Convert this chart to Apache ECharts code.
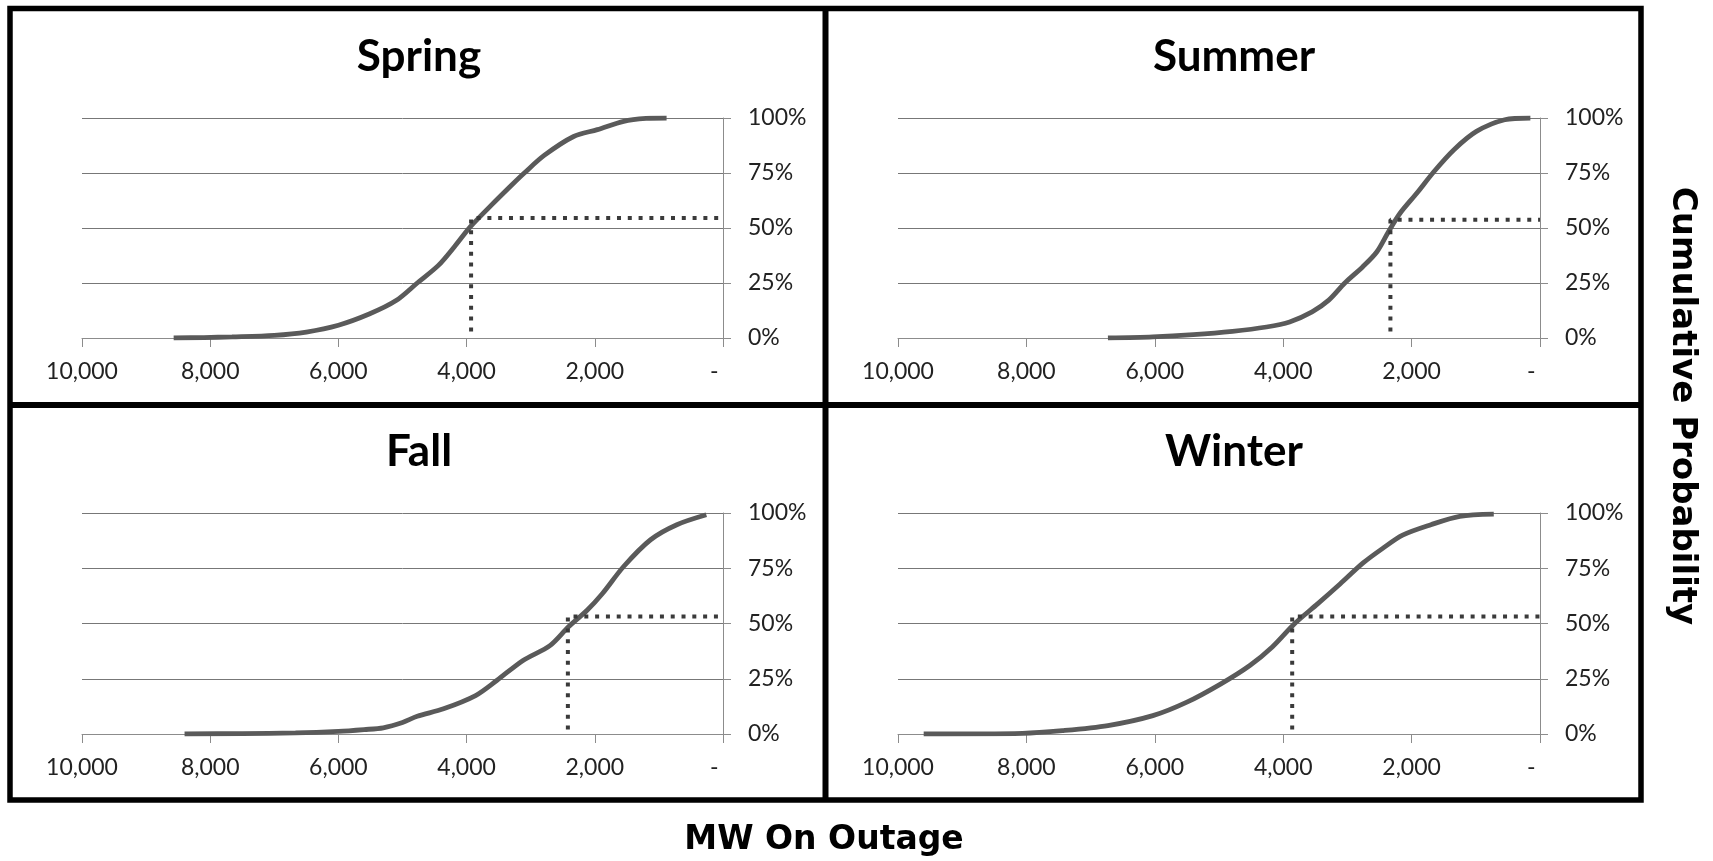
<!DOCTYPE html>
<html><head><meta charset="utf-8">
<script src="https://cdn.jsdelivr.net/npm/echarts@6/dist/echarts.min.js"></script>
<style>html,body{margin:0;padding:0;background:#fff}#c{width:1713px;height:861px}</style>
</head><body><div id="c"></div>
<script>
// ---- data ----
const seasons = ['Spring', 'Summer', 'Fall', 'Winter'];
const xTickValues = [0, 2000, 4000, 6000, 8000, 10000];
const yTickValues = [0, 0.25, 0.5, 0.75, 1];

const springMW = [8570, 8100, 7660, 7000, 6500, 6000, 5510, 5100, 4770, 4440, 4190, 3940, 3610, 3280, 3100, 2790, 2330, 1960, 1550, 1200, 880];
const springP  = [0, 0.002, 0.005, 0.012, 0.027, 0.058, 0.11, 0.17, 0.25, 0.33, 0.415, 0.506, 0.605, 0.70, 0.75, 0.83, 0.916, 0.947, 0.985, 0.998, 1.0];

const summerMW = [6730, 6030, 5400, 4790, 4260, 3900, 3550, 3290, 3040, 2760, 2540, 2360, 2180, 1920, 1650, 1340, 990, 550, 150];
const summerP  = [0, 0.005, 0.015, 0.03, 0.05, 0.073, 0.119, 0.172, 0.25, 0.324, 0.392, 0.483, 0.567, 0.658, 0.757, 0.856, 0.939, 0.992, 1.0];

const fallMW = [8400, 7500, 6670, 6000, 5600, 5300, 5000, 4770, 4360, 3860, 3530, 3120, 2700, 2410, 2120, 1880, 1550, 1130, 720, 260];
const fallP  = [0, 0.002, 0.005, 0.012, 0.02, 0.028, 0.052, 0.08, 0.114, 0.174, 0.242, 0.333, 0.40, 0.485, 0.56, 0.636, 0.758, 0.879, 0.947, 0.992];

const winterMW = [9600, 8060, 7440, 6730, 6030, 5500, 4970, 4520, 4170, 3820, 3460, 3110, 2760, 2450, 2140, 1700, 1250, 720];
const winterP  = [0, 0.003, 0.015, 0.038, 0.083, 0.144, 0.227, 0.31, 0.394, 0.50, 0.59, 0.68, 0.773, 0.84, 0.90, 0.947, 0.985, 0.995];

const medianMW    = [3930, 2330, 2420, 3860];
const medianP     = [0.545, 0.537, 0.532, 0.532];
const medianStart = [0.03, 0.03, 0.02, 0.02];

const xAxisTitle = 'MW On Outage';
const yAxisTitle = 'Cumulative Probability';

// ---- layout ----
const curves = [[springMW, springP], [summerMW, summerP], [fallMW, fallP], [winterMW, winterP]];
const grids = [
  {left: 82, top: 118, width: 641, height: 220},
  {left: 898, top: 118, width: 642, height: 220},
  {left: 82, top: 513, width: 641, height: 221},
  {left: 898, top: 513, width: 642, height: 221}
];
const titlePos = [[419, 57], [1234, 57], [419, 452], [1234, 452]];
const axisGray = '#8c8c8c';
const labelFont = {fontFamily: 'Lato', fontSize: 23, color: '#222'};

const xAxes = [], yAxes = [], series = [], graphics = [];
seasons.forEach((name, i) => {
  xAxes.push({
    gridIndex: i, type: 'value', inverse: true,
    min: xTickValues[0], max: xTickValues[xTickValues.length - 1], interval: xTickValues[1] - xTickValues[0],
    axisLine: {show: true, onZero: false, lineStyle: {color: axisGray, width: 1}},
    axisTick: {show: true, length: 9, lineStyle: {color: axisGray}},
    splitLine: {show: false},
    axisLabel: Object.assign({margin: 22, formatter: v => v === 0 ? '-   ' : v.toLocaleString('en-US')}, labelFont)
  });
  yAxes.push({
    gridIndex: i, type: 'value', position: 'right',
    min: yTickValues[0], max: yTickValues[yTickValues.length - 1], interval: yTickValues[1] - yTickValues[0],
    axisLine: {show: true, onZero: false, lineStyle: {color: axisGray, width: 1}},
    axisTick: {show: true, length: 8, lineStyle: {color: axisGray}},
    splitLine: {show: true, lineStyle: {color: '#777', width: 1}},
    axisLabel: Object.assign({margin: 25, align: 'left', formatter: v => Math.round(v * 100) + '%'}, labelFont)
  });
  const [mw, p] = curves[i];
  series.push({
    type: 'line', xAxisIndex: i, yAxisIndex: i, z: 3,
    data: mw.map((m, k) => [m, p[k]]),
    smooth: 0.3, symbol: 'none', silent: true,
    lineStyle: {color: '#5a5a5a', width: 4.8}
  });
  series.push({
    type: 'line', xAxisIndex: i, yAxisIndex: i, z: 4,
    data: [[medianMW[i], medianStart[i]], [medianMW[i], medianP[i]], [0, medianP[i]]],
    symbol: 'none', silent: true,
    lineStyle: {color: '#3a3a3a', width: 4, type: [4, 6.8], cap: 'butt'}
  });
  graphics.push({
    type: 'text', x: titlePos[i][0], y: titlePos[i][1],
    style: {text: name, font: 'bold 44px Lato', fill: '#000', textAlign: 'center', textVerticalAlign: 'middle', align: 'center', verticalAlign: 'middle'}
  });
});

graphics.push(
  {type: 'rect', shape: {x: 10, y: 8.5, width: 1631, height: 791.5}, style: {fill: null, stroke: '#000', lineWidth: 5.5}},
  {type: 'line', shape: {x1: 825.5, y1: 8.5, x2: 825.5, y2: 800}, style: {stroke: '#000', lineWidth: 6}},
  {type: 'line', shape: {x1: 10, y1: 405, x2: 1641, y2: 405}, style: {stroke: '#000', lineWidth: 6}},
  {type: 'text', x: 824, y: 840,
   style: {text: xAxisTitle, font: 'bold 33px "DejaVu Sans"', fill: '#000', textAlign: 'center', textVerticalAlign: 'middle', align: 'center', verticalAlign: 'middle'}},
  {type: 'text', x: 1682, y: 406, rotation: -Math.PI / 2,
   style: {text: yAxisTitle, font: 'bold 34px "DejaVu Sans"', fill: '#000', textAlign: 'center', textVerticalAlign: 'middle', align: 'center', verticalAlign: 'middle'}}
);

const chart = echarts.init(document.getElementById('c'), null, {renderer: 'canvas'});
chart.setOption({
  backgroundColor: '#fff',
  animation: false,
  grid: grids,
  xAxis: xAxes,
  yAxis: yAxes,
  series: series,
  graphic: graphics
});
</script>
</body></html>
